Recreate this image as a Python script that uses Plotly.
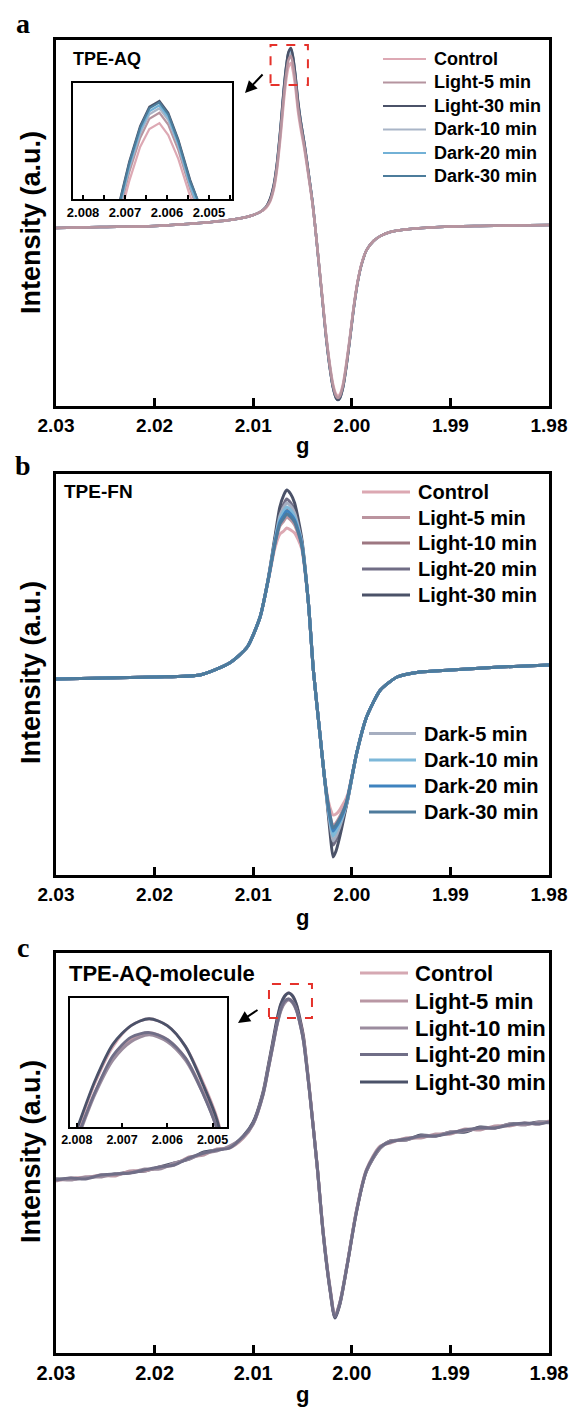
import plotly.graph_objects as go

W, H = 576, 1407

# ---------------- data ----------------
TICK_G = [2.03, 2.02, 2.01, 2.00, 1.99, 1.98]
TICK_TEXT = ["2.03", "2.02", "2.01", "2.00", "1.99", "1.98"]
INSET_TICK_G = [2.008, 2.007, 2.006, 2.005]
INSET_TICK_TEXT = ["2.008", "2.007", "2.006", "2.005"]

# panel a : TPE-AQ
G_A = [2.0300, 2.0255, 2.0200, 2.0154, 2.0124, 2.0103, 2.0093, 2.0087, 2.0083, 2.0079,
       2.0076, 2.0073, 2.00714, 2.0069, 2.00664, 2.00642, 2.00618, 2.00597, 2.00573, 2.00545,
       2.0052, 2.0048, 2.0044, 2.0040, 2.0037, 2.0034, 2.0030, 2.0026, 2.0022, 2.0019,
       2.0016, 2.0014, 2.0012, 2.0009, 2.0006, 2.0002, 1.9998, 1.9994, 1.9990, 1.9985,
       1.9978, 1.9971, 1.9961, 1.9941, 1.9911, 1.9870, 1.9800]
A_NAMES = ["Control", "Light-5 min", "Light-30 min", "Dark-10 min", "Dark-20 min", "Dark-30 min"]
A_CONTROL = [0, 1, 2, 5, 8, 12, 16, 20, 26, 39, 57, 84, 100, 126, 149, 161, 165, 157, 141, 116,
             100, 78, 52, 25, 0, -29, -68, -107, -138, -156, -166, -168, -166, -156, -138, -109,
             -78, -53, -35, -22, -13, -8, -4, -1, 1, 2, 3]
A_LIGHT5 = [0, 1, 2, 5, 8, 12, 16, 21, 27, 41, 60, 88, 105, 132, 155, 168, 172, 164, 147, 121,
            104, 81, 54, 26, 0, -29, -69, -108, -140, -158, -168, -170, -168, -158, -140, -111,
            -79, -53, -36, -22, -13, -8, -4, -1, 1, 2, 3]
A_LIGHT30 = [0, 1, 2, 5, 8, 12, 16, 21, 29, 44, 64, 93, 111, 139, 163, 176, 180, 172, 154, 127,
             108, 84, 56, 27, 0, -30, -70, -110, -142, -160, -170, -172, -170, -160, -142, -112,
             -80, -54, -36, -22, -13, -8, -4, -1, 1, 2, 3]
A_DARK10 = [0, 1, 2, 5, 8, 12, 16, 21, 28, 42, 62, 90, 107, 135, 158, 171, 175, 167, 150, 123,
            106, 82, 55, 26, 0, -30, -69, -109, -141, -159, -169, -171, -169, -159, -141, -111,
            -79, -54, -36, -22, -13, -8, -4, -1, 1, 2, 3]
A_DARK20 = [0, 1, 2, 5, 8, 12, 16, 21, 28, 43, 62, 91, 108, 136, 160, 173, 177, 169, 151, 124,
            107, 83, 55, 27, 0, -30, -70, -109, -141, -159, -169, -171, -169, -159, -141, -111,
            -80, -54, -36, -22, -13, -8, -4, -1, 1, 2, 3]
A_DARK30 = [0, 1, 2, 5, 8, 12, 16, 21, 28, 43, 63, 92, 110, 138, 162, 175, 179, 171, 153, 126,
            108, 84, 56, 27, 0, -30, -70, -110, -142, -160, -170, -172, -170, -160, -142, -112,
            -80, -54, -36, -22, -13, -8, -4, -1, 1, 2, 3]
A_COLORS = ["#dda9b4", "#b5949f", "#4b5268", "#a9b5c7", "#72b1d6", "#4c7c9b"]

# panel b : TPE-FN
G_B = [2.0300, 2.0200, 2.0154, 2.0124, 2.0106, 2.0093, 2.0085, 2.0078, 2.0073, 2.0069,
       2.0066, 2.0062, 2.0058, 2.0051, 2.0044, 2.0039, 2.0032, 2.0028, 2.0025, 2.0022,
       2.0019, 2.0016, 2.0013, 2.0010, 2.0007, 2.0004, 1.9995, 1.9985, 1.9971, 1.9954,
       1.9931, 1.9900, 1.9850, 1.9800]
B_NAMES = ["Control", "Light-5 min", "Light-10 min", "Light-20 min", "Light-30 min",
           "Dark-5 min", "Dark-10 min", "Dark-20 min", "Dark-30 min"]
B_CONTROL = [-4, -2, 0, 12, 28, 58, 93, 127, 141, 144, 147, 145, 142, 127, 72, 5, -62,
             -99, -120, -133, -140, -139, -136, -131, -126, -119, -78, -42, -15, -2, 3, 5, 8, 10]
B_LIGHT5 = [-4, -2, 0, 12, 28, 58, 94, 130, 149, 154, 158, 155, 150, 130, 72, 5, -62,
            -100, -122, -140, -151, -148, -143, -137, -131, -121, -78, -42, -15, -2, 3, 5, 8, 10]
B_LIGHT10 = [-4, -2, 0, 12, 28, 58, 94, 132, 155, 162, 166, 163, 157, 132, 72, 5, -62,
             -100, -124, -145, -158, -153, -148, -141, -134, -123, -78, -42, -15, -2, 3, 5, 8, 10]
B_LIGHT20 = [-4, -2, 0, 12, 28, 58, 95, 135, 162, 171, 176, 172, 165, 135, 72, 5, -62,
             -100, -126, -151, -170, -165, -157, -147, -136, -124, -78, -42, -15, -2, 3, 5, 8, 10]
B_LIGHT30 = [-4, -2, 0, 12, 28, 58, 95, 138, 168, 180, 185, 181, 172, 138, 72, 5, -62,
             -100, -128, -158, -182, -176, -165, -152, -138, -124, -78, -42, -15, -2, 3, 5, 8, 10]
B_DARK5 = [-4, -2, 0, 12, 28, 58, 94, 134, 159, 168, 172, 169, 162, 134, 72, 5, -62,
           -100, -126, -149, -166, -161, -154, -145, -135, -124, -78, -42, -15, -2, 3, 5, 8, 10]
B_DARK10 = [-4, -2, 0, 12, 28, 58, 94, 133, 156, 164, 168, 165, 158, 133, 72, 5, -62,
            -100, -125, -146, -161, -156, -150, -143, -134, -123, -78, -42, -15, -2, 3, 5, 8, 10]
B_DARK20 = [-4, -2, 0, 12, 28, 58, 94, 132, 153, 160, 164, 161, 155, 132, 72, 5, -62,
            -100, -124, -143, -156, -152, -147, -141, -133, -122, -78, -42, -15, -2, 3, 5, 8, 10]
B_DARK30 = [-4, -2, 0, 12, 28, 58, 94, 131, 151, 157, 161, 158, 153, 131, 72, 5, -62,
            -100, -123, -141, -153, -150, -145, -139, -132, -122, -78, -42, -15, -2, 3, 5, 8, 10]
B_COLORS = ["#dca8b2", "#bb949f", "#9d7781", "#706d85", "#4b5268",
            "#a6aec0", "#7db8d9", "#3f83bf", "#4e7b9c"]

# panel c : TPE-AQ-molecule
G_C = [2.0300, 2.0285, 2.0270, 2.0255, 2.0240, 2.0225, 2.0210, 2.0195, 2.0180, 2.0165,
       2.0150, 2.0137, 2.0124, 2.0110, 2.0100, 2.0090, 2.0085, 2.0080, 2.0076, 2.0072,
       2.0068, 2.0064, 2.0060, 2.0056, 2.0052, 2.0049, 2.0045, 2.0042, 2.0035, 2.0029,
       2.0022, 2.0017, 2.0012, 2.0005, 1.9995, 1.9985, 1.9971, 1.9961, 1.9945, 1.9930,
       1.9915, 1.9900, 1.9885, 1.9870, 1.9855, 1.9840, 1.9825, 1.9810, 1.9800]
C_NAMES = ["Control", "Light-5 min", "Light-10 min", "Light-20 min", "Light-30 min"]
C_CONTROL = [0, 1, 3, 4, 5, 8, 10, 12, 16, 22, 26, 30, 33, 43, 57, 87, 112, 138, 159, 175,
             184, 187, 184, 175, 159, 144, 110, 82, 13, -53, -110, -137, -123, -87, -30, 10,
             33, 38, 41, 43, 45, 47, 50, 51, 53, 55, 56, 57, 58]
C_LIGHT5 = [-1, 2, 2, 5, 4, 9, 9, 13, 15, 23, 25, 31, 32, 42, 56, 86, 110, 135, 155, 170,
            178, 181, 178, 170, 155, 140, 108, 81, 13, -52, -108, -135, -122, -86, -29, 11,
            34, 37, 42, 42, 46, 46, 51, 50, 54, 54, 57, 56, 59]
C_LIGHT10 = [1, 0, 3, 3, 6, 7, 11, 11, 17, 21, 27, 29, 34, 43, 56, 85, 109, 134, 154, 169,
             177, 180, 177, 169, 154, 139, 107, 80, 12, -53, -109, -136, -122, -86, -30, 9,
             32, 39, 40, 44, 44, 48, 49, 52, 52, 56, 55, 58, 57]
C_LIGHT20 = [0, 2, 1, 5, 6, 7, 10, 13, 15, 22, 27, 30, 32, 44, 57, 86, 110, 135, 155, 171,
             179, 181, 178, 170, 154, 139, 107, 80, 13, -53, -110, -137, -123, -87, -31, 10,
             33, 38, 41, 44, 44, 47, 50, 52, 52, 55, 57, 56, 58]
C_LIGHT30 = [1, 1, 2, 4, 6, 8, 9, 13, 17, 21, 28, 30, 33, 44, 58, 88, 113, 139, 160, 176,
             184, 187, 184, 175, 158, 143, 109, 81, 12, -54, -111, -138, -124, -87, -30, 9,
             32, 39, 40, 45, 44, 48, 48, 53, 52, 56, 56, 58, 58]
C_COLORS = ["#d5a8b2", "#b997a4", "#9b8c9e", "#706e87", "#4b5269"]

# ---------------- helpers ----------------
SANS = "Liberation Sans, Arial, sans-serif"
SERIF = "Liberation Serif, Times New Roman, serif"


def pxx(x):
    return x / W


def pxy(y):
    return 1 - y / H


fig = go.Figure()

A_SERIES = [A_CONTROL, A_LIGHT5, A_LIGHT30, A_DARK10, A_DARK20, A_DARK30]
B_SERIES = [B_CONTROL, B_LIGHT5, B_LIGHT10, B_LIGHT20, B_LIGHT30, B_DARK5, B_DARK10, B_DARK20, B_DARK30]
C_SERIES = [C_CONTROL, C_LIGHT5, C_LIGHT10, C_LIGHT20, C_LIGHT30]

# panel a main: Dark-30 ... first, Control and Light-5 last (on top)
A_MAIN_ORDER = [5, 4, 3, 2, 0, 1]
for i in A_MAIN_ORDER:
    fig.add_trace(go.Scatter(x=G_A, y=A_SERIES[i], mode="lines", name=A_NAMES[i], xaxis="x", yaxis="y",
                             line=dict(color=A_COLORS[i], width=2.5, shape="spline", smoothing=0.8),
                             showlegend=False))
# panel a inset
for name, vals, col in zip(A_NAMES, A_SERIES, A_COLORS):
    fig.add_trace(go.Scatter(x=G_A, y=vals, mode="lines", name=name, xaxis="x2", yaxis="y2",
                             line=dict(color=col, width=2.2), showlegend=False))
# panel b
for name, vals, col in zip(B_NAMES, B_SERIES, B_COLORS):
    fig.add_trace(go.Scatter(x=G_B, y=vals, mode="lines", name=name, xaxis="x3", yaxis="y3",
                             line=dict(color=col, width=3, shape="spline", smoothing=0.6),
                             showlegend=False))
# panel c main (Light-20 ends on top) + inset
C_MAIN_ORDER = [0, 4, 1, 2, 3]
for i in C_MAIN_ORDER:
    fig.add_trace(go.Scatter(x=G_C, y=C_SERIES[i], mode="lines", name=C_NAMES[i], xaxis="x4", yaxis="y4",
                             line=dict(color=C_COLORS[i], width=3, shape="spline", smoothing=0.8),
                             showlegend=False))
for name, vals, col in zip(C_NAMES, C_SERIES, C_COLORS):
    fig.add_trace(go.Scatter(x=G_C, y=vals, mode="lines", name=name, xaxis="x5", yaxis="y5",
                             line=dict(color=col, width=2.8, shape="spline", smoothing=0.8),
                             showlegend=False))

# ---------------- axes ----------------
XDOM = [pxx(56), pxx(549)]


def main_x(anchor, size):
    return dict(domain=XDOM, range=[2.03, 1.98], anchor=anchor, showline=True, mirror=True,
                linecolor="black", linewidth=3, ticks="inside", ticklen=8, tickwidth=2.5,
                tickcolor="black", tickmode="array", tickvals=TICK_G, ticktext=TICK_TEXT,
                tickfont=dict(family=SANS, size=size, color="black", weight="bold"),
                showgrid=False, zeroline=False, automargin=False)


def main_y(anchor, dom, rng, lw=3):
    return dict(domain=dom, range=rng, anchor=anchor, showline=True, mirror=True,
                linecolor="black", linewidth=lw, ticks="", showticklabels=False,
                showgrid=False, zeroline=False, automargin=False)


def inset_x(anchor, dom, rng, size, minor):
    d = dict(domain=dom, range=rng, anchor=anchor, showline=True, mirror=True,
             linecolor="black", linewidth=2, ticks="inside", ticklen=4, tickwidth=1.8,
             tickcolor="black", tickmode="array", tickvals=INSET_TICK_G, ticktext=INSET_TICK_TEXT,
             tickfont=dict(family=SANS, size=size, color="black", weight="bold"),
             showgrid=False, zeroline=False, automargin=False)
    if minor:
        d["minor"] = dict(tickmode="linear", tick0=2.0, dtick=0.0005, ticks="inside",
                          ticklen=4, tickwidth=1.8, tickcolor="black", showgrid=False)
    return d


fig.update_layout(
    xaxis=main_x("y", 19),
    yaxis=main_y("x", [pxy(406), pxy(40)], [-178, 188]),
    xaxis2=inset_x("y2", [pxx(73), pxx(232)], [2.00824, 2.00445], 13, True),
    yaxis2=main_y("x2", [pxy(199), pxy(83)], [114, 192], 2),
    xaxis3=main_x("y3", 19),
    yaxis3=main_y("x3", [pxy(875), pxy(474)], [-200, 201]),
    xaxis4=main_x("y4", 20),
    yaxis4=main_y("x4", [pxy(1353), pxy(953)], [-173, 227]),
    xaxis5=inset_x("y5", [pxx(70), pxx(227)], [2.00815, 2.00468], 12.5, False),
    yaxis5=main_y("x5", [pxy(1127), pxy(998)], [140, 196], 2),
)

# ---------------- text, legends, marks ----------------
ann = []
shapes = []


def text(x, y, s, size, family=SANS, xanchor="left", angle=0):
    ann.append(dict(x=pxx(x), y=pxy(y), xref="paper", yref="paper", text=s, showarrow=False,
                    xanchor=xanchor, yanchor="middle", textangle=angle,
                    font=dict(family=family, size=size, color="black", weight="bold")))


def legend(names, colors, ys, x0, x1, xt, size, lw):
    for n, c, y in zip(names, colors, ys):
        shapes.append(dict(type="line", xref="paper", yref="paper", x0=pxx(x0), x1=pxx(x1),
                           y0=pxy(y), y1=pxy(y), line=dict(color=c, width=lw)))
        text(xt, y, n, size)


# panel letters
text(23, 23, "a", 28, SERIF, "center")
text(23, 465, "b", 28, SERIF, "center")
text(23, 947, "c", 28, SERIF, "center")

# panel titles
text(71, 59, "TPE-AQ", 18)
text(62, 492, "TPE-FN", 19)
text(67, 973, "TPE-AQ-molecule", 22)

# axis titles
for yc in (223, 673, 1152):
    text(31, yc, "Intensity (a.u.)", 27, SANS, "center", -90)
text(302, 446, "g", 22, SANS, "center")
text(302, 917, "g", 22, SANS, "center")
text(302, 1394, "g", 22, SANS, "center")

# legends
legend(A_NAMES, A_COLORS, [59, 82.5, 106, 129.5, 153, 176], 383, 426, 432, 18, 2)
legend(B_NAMES[:5], B_COLORS[:5], [492, 517.5, 543, 569, 595], 362, 410, 416, 20, 3)
legend(B_NAMES[5:], B_COLORS[5:], [733.5, 760, 786, 812], 369, 416, 422, 20, 3)
legend(C_NAMES, C_COLORS, [973, 1001, 1028, 1054.5, 1082], 360, 408, 413, 22, 3)

# dashed zoom boxes
shapes.append(dict(type="rect", xref="x", yref="y", x0=2.00824, x1=2.00445, y0=143, y1=183,
                   line=dict(color="#e5322b", width=2, dash="dash")))
shapes.append(dict(type="rect", xref="x4", yref="y4", x0=2.0084, x1=2.00404, y0=162, y1=196,
                   line=dict(color="#e5322b", width=2, dash="dash")))

# arrows
ann.append(dict(x=pxx(245), y=pxy(93), xref="paper", yref="paper", ax=19, ay=-20, text="",
                showarrow=True, arrowhead=2, arrowsize=1.2, arrowwidth=2, arrowcolor="black"))
ann.append(dict(x=pxx(238), y=pxy(1023), xref="paper", yref="paper", ax=21, ay=-14, text="",
                showarrow=True, arrowhead=2, arrowsize=1.2, arrowwidth=2, arrowcolor="black"))

fig.update_layout(width=W, height=H, margin=dict(l=0, r=0, t=0, b=0, pad=0, autoexpand=False),
                  paper_bgcolor="white", plot_bgcolor="white", showlegend=False,
                  annotations=ann, shapes=shapes)

fig.write_html("out.html")
